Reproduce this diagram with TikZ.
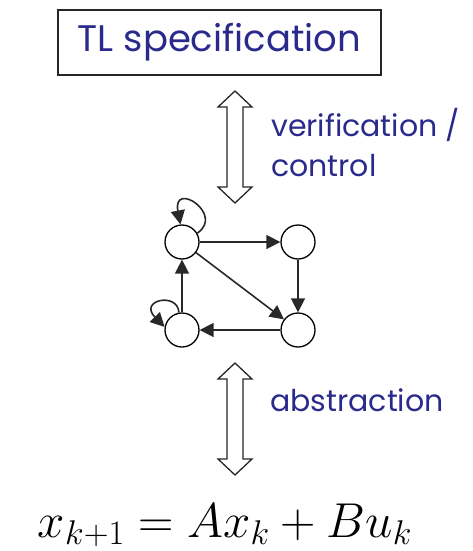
\RequirePackage{fix-cm}
\documentclass[tikz,border=0pt]{standalone}
\usepackage{fontspec}
\setsansfont{Poppins}
\usetikzlibrary{arrows.meta}
\definecolor{txtblue}{RGB}{42,42,140}
\definecolor{edgegray}{RGB}{40,40,40}
\begin{document}
\begin{tikzpicture}[x=1pt,y=1pt,
  label/.style={text=txtblue,font=\sffamily\fontsize{30}{40}\selectfont,inner sep=0pt},
  state/.style={circle,draw=black,fill=white,line width=1.3pt,minimum size=34pt,inner sep=0pt},
  edge/.style={draw=edgegray,line width=1.6pt,-{Triangle[length=14pt,width=14pt]}},
  dblarrow/.style={draw=black!85,line width=1.3pt,fill=white}
]
\useasboundingbox (0,0) rectangle (472,-551);
% spec box
\node[draw=black!85,line width=1.3pt,minimum width=323pt,minimum height=65pt,inner sep=0pt,
  text=txtblue,font=\sffamily\fontsize{37}{40}\selectfont] (spec) at (219.5,-42.5) {TL specification};
% double arrows
\coordinate (a1t) at (235,-91);
\coordinate (a1b) at (235,-203);
\draw[dblarrow] (a1t) -- ++(17,-16) -- ++(-9,0) -- (243,-187) -- ++(9,0) -- (a1b) -- ++(-17,16) -- ++(9,0) -- (227,-107) -- ++(-9,0) -- cycle;
\coordinate (a2t) at (235,-363);
\coordinate (a2b) at (235,-475);
\draw[dblarrow] (a2t) -- ++(17,-16) -- ++(-9,0) -- (243,-459) -- ++(9,0) -- (a2b) -- ++(-17,16) -- ++(9,0) -- (227,-379) -- ++(-9,0) -- cycle;
\node[label,anchor=west,align=left] (vc) at (271,-143) {verification /\\control};
\node[label,anchor=west] (abs) at (270,-400) {abstraction};
% graph
\node[state] (tl) at (182,-242) {};
\node[state] (tr) at (298,-242) {};
\node[state] (bl) at (182,-330) {};
\node[state] (br) at (298,-330) {};
\draw[edge] (tl) -- (tr);
\draw[edge] (tr) -- (br);
\draw[edge] (br) -- (bl);
\draw[edge] (bl) -- (tl);
\draw[edge] (tl) -- (br);
\draw[edge] (tl.30) .. controls +(28,19) and (172,-180) .. (tl.95);
\draw[edge] (bl.100) .. controls +(-1,21) and (138,-300) .. (bl.170);
% equation
\node[anchor=base,inner sep=0pt,font=\fontsize{49}{54}\selectfont] (eq) at (225,-537) {$x_{k+1} = Ax_k + Bu_k$};
\end{tikzpicture}
\end{document}
